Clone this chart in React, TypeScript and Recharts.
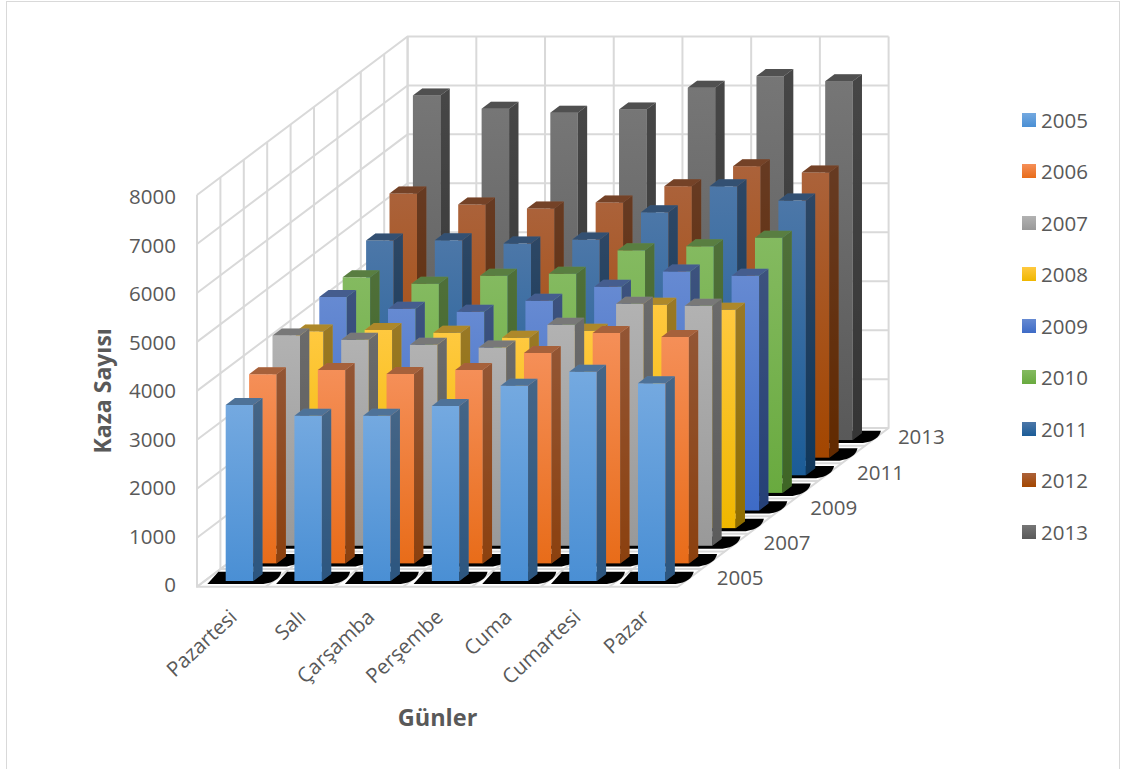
// 3D-look column chart: every series is a Recharts Bar with a cuboid shape, pushed back along the depth axis.
import React from 'react'
import { BarChart, Bar, XAxis, YAxis, CartesianGrid, Legend, Customized } from 'recharts'

const DAYS = ['Pazartesi', 'Salı', 'Çarşamba', 'Perşembe', 'Cuma', 'Cumartesi', 'Pazar']
const YEARS = ['2005', '2006', '2007', '2008', '2009', '2010', '2011', '2012', '2013']
const Y_TICKS = [0, 1000, 2000, 3000, 4000, 5000, 6000, 7000, 8000]

const V2005 = [3595, 3376, 3376, 3574, 3989, 4275, 4038]
const V2006 = [3863, 3951, 3870, 3951, 4298, 4707, 4625]
const V2007 = [4293, 4205, 4103, 4048, 4512, 4941, 4900]
const V2008 = [4017, 4049, 3989, 3888, 4031, 4562, 4460]
const V2009 = [4361, 4122, 4060, 4285, 4571, 4884, 4796]
const V2010 = [4402, 4274, 4437, 4478, 4954, 5036, 5213]
const V2011 = [4794, 4800, 4733, 4814, 5372, 5903, 5611]
const V2012 = [5395, 5170, 5089, 5211, 5544, 5953, 5824]
const V2013 = [7038, 6767, 6685, 6752, 7196, 7433, 7330]
const VALUES = [V2005, V2006, V2007, V2008, V2009, V2010, V2011, V2012, V2013]

// gradient colours of the front face, top to bottom
const COLOR_TOP = ['#74a9e0', '#f58f58', '#b2b2b2', '#ffc93f', '#668ad2', '#84ba60', '#4c77a8', '#ab623a', '#767676']
const COLOR_BOTTOM = ['#4a8fd4', '#e86c19', '#999999', '#efb700', '#3e6bc6', '#69aa3f', '#1b5c97', '#a34600', '#595959']

const TEXT = '#595959'
const GRID = '#d9d9d9'
const FONT = '"Open Sans", sans-serif'

const data = DAYS.map((day, k) => {
  const row: Record<string, string | number> = { day }
  YEARS.forEach((year, i) => {
    row['y' + year] = VALUES[i][k]
  })
  return row
})

// plot rectangle is the front plane of the box
const PLOT_LEFT = 197
const PLOT_RIGHT = 678
const PLOT_TOP = 195
const PLOT_BOTTOM = 586.7
const BAND = (PLOT_RIGHT - PLOT_LEFT) / DAYS.length
const STEP_X = 23.4 // one depth row
const STEP_Y = 17.62
const WALL_DX = STEP_X * YEARS.length
const WALL_DY = STEP_Y * YEARS.length
const BAR_W = 27.5
const BAR_DX = 9.3
const BAR_DY = 7

function Cuboid(props: any) {
  const { x, y, width, height, row } = props
  const r = x + width
  const b = y + height
  const fx = x - (BAND - BAR_W) / 2
  const fill = `url(#front${row})`
  const side = `M${r},${y} L${r + BAR_DX},${y - BAR_DY} L${r + BAR_DX},${b - BAR_DY} L${r},${b} Z`
  const top = `M${x},${y} L${x + BAR_DX},${y - BAR_DY} L${r + BAR_DX},${y - BAR_DY} L${r},${y} Z`
  return (
    <g>
      <g transform={`translate(${row * STEP_X},${-row * STEP_Y})`}>
        <path
          d={`M${fx + 10},${PLOT_BOTTOM - 2.7} L${fx + 21},${PLOT_BOTTOM - 15} L${fx + 84},${PLOT_BOTTOM - 15} Q${fx + 82},${PLOT_BOTTOM - 5} ${fx + 66},${PLOT_BOTTOM - 2.7} Z`}
          fill="#000"
        />
      </g>
      <g transform={`translate(${7.7 + row * STEP_X},${-5.7 - row * STEP_Y})`}>
        <rect x={x} y={y} width={width} height={height} fill={fill} />
        <path d={side} fill={fill} />
        <path d={side} fill="#000" fillOpacity={0.4} />
        <path d={top} fill={COLOR_TOP[row]} />
        <path d={top} fill="#000" fillOpacity={0.32} />
      </g>
    </g>
  )
}

function DayTick({ x, y, payload }: any) {
  return (
    <text
      x={x + 7}
      y={y + 24}
      transform={`rotate(-43 ${x + 7} ${y + 24})`}
      textAnchor="end"
      fontSize={20.5}
      fontFamily={FONT}
      fill={TEXT}
    >
      {payload.value}
    </text>
  )
}

// the value labels sit on a slightly shorter run than the wall itself
function ValueTick({ x, y, payload }: any) {
  const labelY = y + (391 - y) * 0.01
  return (
    <text x={x} y={labelY} dy="0.36em" textAnchor="end" fontSize={20.5} fontFamily={FONT} fill={TEXT}>
      {payload.value}
    </text>
  )
}

// horizontal gridline of the y scale, folded over the left and the back wall
function WallLine(props: any) {
  const y = props.y1
  return (
    <polyline
      key={'h' + y}
      points={`${PLOT_LEFT},${y} ${PLOT_LEFT + WALL_DX},${y - WALL_DY} ${PLOT_RIGHT + WALL_DX},${y - WALL_DY}`}
      fill="none"
      stroke={GRID}
      strokeWidth={2}
    />
  )
}

// category boundary: floor diagonal, then up the back wall
function BackLine(props: any) {
  const x = props.x1
  return (
    <polyline
      key={'v' + x}
      points={`${x},${PLOT_BOTTOM} ${x + WALL_DX},${PLOT_BOTTOM - WALL_DY} ${x + WALL_DX},${PLOT_TOP - WALL_DY}`}
      fill="none"
      stroke={GRID}
      strokeWidth={2}
    />
  )
}

// depth boundary: up the left wall, and across the floor
function DepthLine(props: any) {
  const x = props.x1
  const k = Math.round((x - PLOT_LEFT) / STEP_X)
  const dy = k * STEP_Y
  return (
    <polyline
      key={'d' + k}
      points={`${x},${PLOT_TOP - dy} ${x},${PLOT_BOTTOM - dy} ${PLOT_RIGHT + k * STEP_X},${PLOT_BOTTOM - dy}`}
      fill="none"
      stroke={GRID}
      strokeWidth={2}
    />
  )
}

const BACK_POINTS = Array.from({ length: DAYS.length + 1 }, (_, k) => PLOT_LEFT + k * BAND)
const DEPTH_POINTS = Array.from({ length: YEARS.length + 1 }, (_, k) => PLOT_LEFT + k * STEP_X)

function DepthAxis() {
  return (
    <g>
      {YEARS.map((year, i) =>
        i % 2 === 0 ? (
          <text
            key={year}
            x={PLOT_RIGHT + (i + 0.5) * STEP_X + (i === 8 ? 21 : 27)}
            y={PLOT_BOTTOM - (i + 0.5) * STEP_Y}
            dy="0.36em"
            fontSize={20.5}
            fontFamily={FONT}
            fill={TEXT}
          >
            {year}
          </text>
        ) : null,
      )}
    </g>
  )
}

function YearLegend({ payload }: any) {
  const items = [...(payload ?? [])].sort((a: any, b: any) => String(a.value).localeCompare(String(b.value)))
  return (
    <div>
      {items.map((item: any, i: number) => (
        <div key={item.value} style={{ display: 'flex', alignItems: 'center', height: 51.5 }}>
          <svg width={14} height={14} style={{ marginRight: 5 }}>
            <rect width={14} height={14} fill={`url(#front${i})`} />
          </svg>
          <span style={{ fontSize: 20.5, fontFamily: FONT, color: TEXT }}>{item.value}</span>
        </div>
      ))}
    </div>
  )
}

export default function App() {
  const rows = YEARS.map((year, row) => ({ year, row })).reverse() // back row is painted first
  return (
    <div
      style={{
        position: 'absolute',
        left: 0,
        top: 0,
        width: 1121,
        height: 769,
        overflow: 'hidden',
        background: '#fff',
      }}
    >
      <div
        style={{
          position: 'absolute',
          left: 6,
          top: 1,
          width: 1112,
          height: 800,
          border: '1.5px solid #d9d9d9',
        }}
      />
      <BarChart
        width={1121}
        height={769}
        data={data}
        barSize={BAR_W}
        barGap={-BAR_W}
        margin={{ top: PLOT_TOP, right: 1121 - PLOT_RIGHT, bottom: 769 - PLOT_BOTTOM - 150, left: PLOT_LEFT - 110 }}
        style={{ position: 'absolute', left: 0, top: 0 }}
      >
        <defs>
          {YEARS.map((year, i) => (
            <linearGradient key={year} id={`front${i}`} x1="0" y1="0" x2="0" y2="1">
              <stop offset="0%" stopColor={COLOR_TOP[i]} />
              <stop offset="100%" stopColor={COLOR_BOTTOM[i]} />
            </linearGradient>
          ))}
        </defs>
        <CartesianGrid horizontal={WallLine} vertical={BackLine} verticalPoints={BACK_POINTS} />
        <CartesianGrid horizontal={false} vertical={DepthLine} verticalPoints={DEPTH_POINTS} />
        <XAxis
          dataKey="day"
          height={150}
          interval={0}
          axisLine={false}
          tickLine={false}
          tick={DayTick}
          label={{
            value: 'Günler',
            position: 'insideBottom',
            offset: 11,
            fontSize: 23.5,
            fontWeight: 700,
            fontFamily: FONT,
            fill: TEXT,
          }}
        />
        <YAxis
          width={110}
          domain={[0, 8000]}
          ticks={Y_TICKS}
          interval={0}
          axisLine={false}
          tickLine={false}
          tickSize={0}
          tickMargin={21}
          tick={ValueTick}
          label={{
            value: 'Kaza Sayısı',
            angle: -90,
            position: 'insideLeft',
            offset: 16,
            style: { textAnchor: 'middle' },
            fontSize: 23,
            fontWeight: 700,
            fontFamily: FONT,
            fill: TEXT,
          }}
        />
        {rows.map(({ year, row }) => (
          <Bar
            key={year}
            dataKey={'y' + year}
            name={year}
            fill={COLOR_BOTTOM[row]}
            isAnimationActive={false}
            shape={(p: any) => <Cuboid {...p} row={row} />}
          />
        ))}
        <Customized component={DepthAxis} />
        <Legend
          layout="horizontal"
          verticalAlign="middle"
          align="center"
          content={YearLegend}
          wrapperStyle={{ left: 1022, top: 94, width: 90, height: 470 }}
        />
      </BarChart>
    </div>
  )
}
